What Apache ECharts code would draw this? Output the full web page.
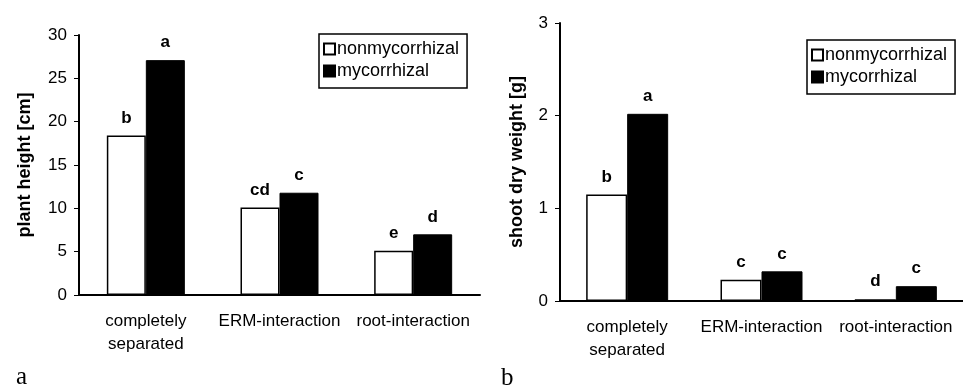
<!DOCTYPE html>
<html>
<head>
<meta charset="utf-8">
<script src="https://cdn.jsdelivr.net/npm/echarts@6/dist/echarts.min.js"></script>
<style>
  html, body { margin: 0; padding: 0; background: #fff; }
  #main { width: 963px; height: 392px; }
</style>
</head>
<body>
<div id="main"></div>
<script>
var chartDom = document.getElementById('main');
var myChart = echarts.init(chartDom);
var option;

let categories = ['completely\nseparated', 'ERM-interaction', 'root-interaction'];
let seriesNames = ['nonmycorrhizal', 'mycorrhizal'];

// panel a: plant height [cm]
let heightNonmyc = [18.4, 10.1, 5.1];
let heightMyc = [27.1, 11.8, 7.0];
let heightNonmycLetters = ['b', 'cd', 'e'];
let heightMycLetters = ['a', 'c', 'd'];

// panel b: shoot dry weight [g]
let weightNonmyc = [1.15, 0.23, 0.02];
let weightMyc = [2.02, 0.32, 0.16];
let weightNonmycLetters = ['b', 'c', 'd'];
let weightMycLetters = ['a', 'c', 'c'];

let font = 'Liberation Sans, Arial, sans-serif';

function xAx(grid) {
  return {
    type: 'category',
    gridIndex: grid,
    data: categories,
    axisLine: { lineStyle: { color: '#000', width: 2 } },
    axisTick: { lineStyle: { color: '#000' }, length: 5 },
    axisLabel: {
      color: '#000', fontSize: 17, fontFamily: font, margin: 15, lineHeight: 23,
      interval: 0, hideOverlap: false
    }
  };
}

function yAx(grid, max, interval, name, gap) {
  return {
    type: 'value',
    gridIndex: grid,
    min: 0,
    max: max,
    interval: interval,
    name: name,
    nameLocation: 'middle',
    nameGap: gap,
    nameTextStyle: { color: '#000', fontSize: 18, fontWeight: 'bold', fontFamily: font },
    axisLine: { show: true, lineStyle: { color: '#000', width: 2 } },
    axisTick: { show: true, length: 5, lineStyle: { color: '#000' } },
    axisLabel: { color: '#000', fontSize: 17, fontFamily: font, margin: 12 },
    splitLine: { show: false }
  };
}

function barSeries(name, data, letters, axis, width, filled) {
  return {
    name: name,
    type: 'bar',
    xAxisIndex: axis,
    yAxisIndex: axis,
    data: data,
    barWidth: width,
    barGap: '0%',
    itemStyle: filled
      ? { color: '#000', borderColor: '#000', borderWidth: 1 }
      : { color: '#fff', borderColor: '#000', borderWidth: 1.5 },
    label: {
      show: true,
      position: 'top',
      distance: 9,
      color: '#000',
      fontSize: 17,
      fontWeight: 'bold',
      fontFamily: font,
      formatter: function (p) { return letters[p.dataIndex]; }
    }
  };
}

function legendBox(left, top) {
  return {
    orient: 'vertical',
    left: left,
    top: top,
    data: seriesNames,
    icon: 'rect',
    itemWidth: 11,
    itemHeight: 11,
    itemGap: 4,
    padding: [6, 8, 8, 4],
    borderColor: '#000',
    borderWidth: 1.5,
    backgroundColor: '#fff',
    textStyle: { color: '#000', fontSize: 18, fontFamily: font, padding: [0, 0, 0, -3] }
  };
}

option = {
  animation: false,
  title: [
    { text: 'a', left: 11, top: 360, textStyle: { fontFamily: 'Liberation Serif, serif', fontWeight: 'normal', fontSize: 25, color: '#000' } },
    { text: 'b', left: 496, top: 361, textStyle: { fontFamily: 'Liberation Serif, serif', fontWeight: 'normal', fontSize: 25, color: '#000' } }
  ],
  legend: [legendBox(319, 34), legendBox(807, 40)],
  grid: [
    { left: 79, top: 35, width: 401, height: 260 },
    { left: 560, top: 23, width: 412, height: 278 }
  ],
  xAxis: [xAx(0), xAx(1)],
  yAxis: [
    yAx(0, 30, 5, 'plant height [cm]', 45),
    yAx(1, 3, 1, 'shoot dry weight [g]', 34)
  ],
  series: [
    barSeries(seriesNames[0], heightNonmyc, heightNonmycLetters, 0, 39, false),
    barSeries(seriesNames[1], heightMyc, heightMycLetters, 0, 39, true),
    barSeries(seriesNames[0], weightNonmyc, weightNonmycLetters, 1, 41, false),
    barSeries(seriesNames[1], weightMyc, weightMycLetters, 1, 41, true)
  ]
};

option && myChart.setOption(option);
</script>
</body>
</html>
